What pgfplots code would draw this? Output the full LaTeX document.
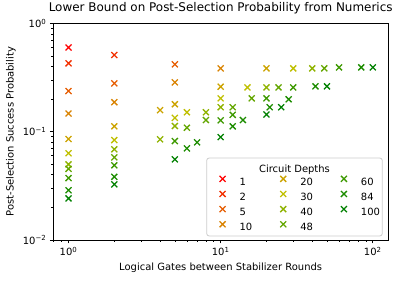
\documentclass[border=0pt]{standalone}
\usepackage{pgfplots}
\pgfplotsset{compat=1.18}
\usepackage{fontspec}
\setmainfont{DejaVu Sans}
\definecolor{c0}{RGB}{255,0,0}
\definecolor{c1}{RGB}{242,48,0}
\definecolor{c2}{RGB}{230,92,0}
\definecolor{c3}{RGB}{217,130,0}
\definecolor{c4}{RGB}{204,163,0}
\definecolor{c5}{RGB}{191,191,0}
\definecolor{c6}{RGB}{143,179,0}
\definecolor{c7}{RGB}{99,166,0}
\definecolor{c8}{RGB}{61,153,0}
\definecolor{c9}{RGB}{28,140,0}
\definecolor{c10}{RGB}{0,128,0}
\pgfplotsset{
  mk/.style={only marks, mark=x, mark size=4.24bp, color=#1, mark options={line width=1.3bp}},
}
\begin{document}
\begin{tikzpicture}
\useasboundingbox (-53.3bp,-42bp) rectangle (346.7bp,240bp);
\draw[draw=black!20, fill=white, rounded corners=2.5bp, line width=0.8bp] (153.4bp,4bp) rectangle (329bp,82bp);
\node[anchor=base, inner sep=0pt] at (241.2bp,67.5bp) {Circuit Depths};
\begin{axis}[
  at={(0,0)}, anchor=south west, scale only axis,
  width=334.7bp, height=216.7bp,
  xmode=log, ymode=log,
  xmin=0.7943, xmax=125.89, ymin=0.01, ymax=1,
  xtick={1,10,100},
  xticklabels={10\textsuperscript{0},10\textsuperscript{1},10\textsuperscript{2}},
  ytick={0.01,0.1,1},
  yticklabels={10\textsuperscript{−2},10\textsuperscript{−1},10\textsuperscript{0}},
  minor xtick={0.8,0.9,2,3,4,5,6,7,8,9,20,30,40,50,60,70,80,90},
  minor ytick={0.02,0.03,0.04,0.05,0.06,0.07,0.08,0.09,0.2,0.3,0.4,0.5,0.6,0.7,0.8,0.9},
  tick align=outside, tick pos=left,
  major tick length=3.5bp, minor tick length=2bp,
  every tick/.style={black, line width=0.8bp},
  minor tick style={line width=0.6bp},
  axis line style={line width=0.8bp},
  title={Lower Bound on Post-Selection Probability from Numerics},
  title style={at={(axis description cs:0.5,1)}, anchor=base, yshift=6bp, inner sep=0pt, font=\fontsize{12}{14}\selectfont},
  xlabel={Logical Gates between Stabilizer Rounds},
  xlabel style={at={(axis description cs:0.5,-0.1292)}, anchor=center, inner sep=0pt},
  ylabel={Post-Selection Success Probability},
  ylabel style={at={(axis description cs:-0.1264,0.5)}, anchor=center, inner sep=0pt},
  legend columns=3,
  legend cell align=left,
  legend style={at={(0.4813,0.3092)}, anchor=north west, draw=none, fill=none,
    nodes={inner sep=0pt},
    column sep=12bp,
    /tikz/every even column/.append style={column sep=26bp},
    row sep=3.4bp},
  legend image code/.code={\path[draw=none,fill=none] (-5bp,0bp) rectangle (5bp,7.3bp); \draw plot coordinates {(0bp,3.65bp)};},
]
\addplot[mk=c0, forget plot] coordinates {(1,0.598)};
\addplot[mk=c1, forget plot] coordinates {(1,0.427)(2,0.510)};
\addplot[mk=c2, forget plot] coordinates {(1,0.237)(2,0.279)(5,0.418)};
\addplot[mk=c3, forget plot] coordinates {(1,0.147)(2,0.187)(5,0.285)(10,0.384)};
\addplot[mk=c4, forget plot] coordinates {(1,0.0855)(2,0.112)(4,0.158)(5,0.179)(10,0.260)(20,0.384)};
\addplot[mk=c5, forget plot] coordinates {(1,0.0632)(2,0.0836)(5,0.134)(6,0.151)(10,0.203)(15,0.256)(30,0.384)};
\addplot[mk=c6, forget plot] coordinates {(1,0.0499)(2,0.0687)(4,0.0849)(5,0.1127)(8,0.151)(10,0.168)(20,0.256)(40,0.384)};
\addplot[mk=c7, forget plot] coordinates {(1,0.0454)(2,0.0579)(6,0.1087)(8,0.128)(12,0.168)(16,0.203)(24,0.256)(48,0.384)};
\addplot[mk=c8, forget plot] coordinates {(1,0.0373)(2,0.0489)(5,0.0819)(10,0.127)(12,0.143)(20,0.203)(30,0.256)(60,0.392)};
\addplot[mk=c9, forget plot] coordinates {(1,0.0288)(2,0.0383)(6,0.0701)(7,0.0797)(12,0.112)(14,0.128)(21,0.168)(28,0.199)(42,0.262)(84,0.392)};
\addplot[mk=c10, forget plot] coordinates {(1,0.0242)(2,0.0326)(5,0.0555)(10,0.0891)(20,0.144)(25,0.168)(50,0.262)(100,0.392)};
\addlegendimage{mk=c0}\addlegendentry{1}
\addlegendimage{mk=c4}\addlegendentry{20}
\addlegendimage{mk=c8}\addlegendentry{60}
\addlegendimage{mk=c1}\addlegendentry{2}
\addlegendimage{mk=c5}\addlegendentry{30}
\addlegendimage{mk=c9}\addlegendentry{84}
\addlegendimage{mk=c2}\addlegendentry{5}
\addlegendimage{mk=c6}\addlegendentry{40}
\addlegendimage{mk=c10}\addlegendentry{100}
\addlegendimage{mk=c3}\addlegendentry{10}
\addlegendimage{mk=c7}\addlegendentry{48}
\end{axis}
\end{tikzpicture}
\end{document}
